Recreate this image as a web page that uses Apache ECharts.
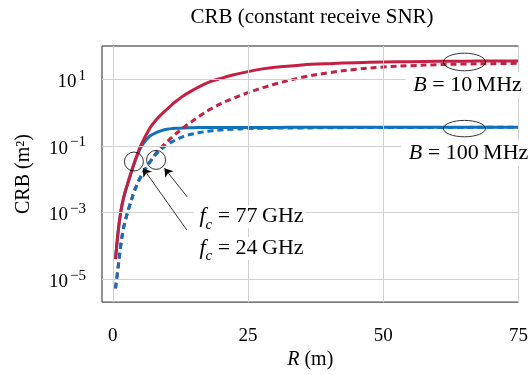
<!DOCTYPE html>
<html><head><meta charset="utf-8">
<script src="https://cdn.jsdelivr.net/npm/echarts@6/dist/echarts.min.js"></script>
<style>html,body{margin:0;padding:0;background:#fff}#c{width:531px;height:375px}</style>
</head><body><div id="c"></div>
<script>
// Range R (m)
const R = [0.5,1,1.5,2,3,4,4.5,5,5.5,6,6.5,7,8,9,10,11,12,13,14,16,18,20,22,25,28,30,35,40,45,50,55,60,65,70,75];
// CRB (m^2), fc = 24 GHz, B = 10 MHz (solid red)
const crb24_B10 = [4.0e-5,2.82e-4,1.12e-3,2.82e-3,1.0e-2,3.16e-2,5.37e-2,8.91e-2,0.132,0.191,0.269,0.372,0.603,0.891,1.26,1.78,2.40,3.16,3.98,6.03,8.51,10.7,13.2,17.0,20.9,22.9,26.9,29.5,31.6,33.1,33.9,34.7,35.1,35.5,35.5];
// fc = 24 GHz, B = 100 MHz (solid blue)
const crb24_B100 = [4.0e-5,2.82e-4,1.12e-3,2.82e-3,1.0e-2,3.16e-2,5.13e-2,7.94e-2,0.110,0.141,0.174,0.204,0.251,0.288,0.316,0.331,0.339,0.347,0.351,0.355,0.355,0.359,0.36,0.36,0.36,0.36,0.361,0.362,0.362,0.363,0.363,0.363,0.363,0.363,0.363];
// fc = 77 GHz, B = 10 MHz (dashed red)
const crb77_B10 = [5.25e-6,2.4e-5,1.12e-4,3.55e-4,1.41e-3,4.47e-3,7.08e-3,1.05e-2,1.48e-2,2.0e-2,2.69e-2,3.55e-2,6.03e-2,9.12e-2,0.132,0.186,0.257,0.347,0.457,0.776,1.26,1.86,2.57,3.98,5.75,7.24,11.5,15.8,20.0,23.4,25.7,27.5,28.8,29.5,30.2];
// fc = 77 GHz, B = 100 MHz (dashed blue)
const crb77_B100 = [5.25e-6,2.4e-5,1.12e-4,3.55e-4,1.41e-3,4.47e-3,7.08e-3,1.05e-2,1.48e-2,2.0e-2,2.69e-2,3.55e-2,5.62e-2,7.94e-2,0.107,0.135,0.162,0.191,0.214,0.251,0.282,0.302,0.316,0.331,0.339,0.343,0.347,0.351,0.355,0.355,0.358,0.36,0.36,0.362,0.363];

const xTicks = [0, 25, 50, 75];
const yTickExp = [-5, -3, -1, 1];

const RED = '#C51F41', BLUE = '#0F72BD';
const F = '"Liberation Serif","Times New Roman",serif';
const pts = arr => R.map((r, i) => [r, Math.log10(arr[i])]);

const chart = echarts.init(document.getElementById('c'));
const lineS = (data, color, dashed) => ({
  type: 'line', data: pts(data), symbol: 'none', smooth: 0.35,
  animation: false, silent: true,
  lineStyle: { color, width: 3, type: dashed ? [6, 4] : 'solid', cap: 'butt', join: 'round' }
});

chart.setOption({
  animation: false,
  title: { text: 'CRB (constant receive SNR)', left: 307, textAlign: 'center', top: 2,
    textStyle: { fontFamily: F, fontSize: 21, fontWeight: 'normal', color: '#000' } },
  grid: { left: 102, right: 9, top: 46, bottom: 62.5, show: true, borderColor: '#222', borderWidth: 1, backgroundColor: 'transparent' },
  xAxis: {
    type: 'value', min: -2, max: 75,
    axisLine: { show: false }, splitLine: { show: false },
    axisTick: { show: true, customValues: xTicks, length: 5, lineStyle: { color: '#222' } },
    axisLabel: { customValues: xTicks, fontFamily: F, fontSize: 19, color: '#000', margin: 24 },
    name: '{i|R} (m)', nameLocation: 'middle', nameGap: 47,
    nameTextStyle: { fontFamily: F, fontSize: 20, color: '#000',
      rich: { i: { fontFamily: F, fontSize: 20, fontStyle: 'italic', color: '#000' } } }
  },
  yAxis: {
    type: 'value', min: -5.69, max: 2,
    axisLine: { show: false }, splitLine: { show: false },
    axisTick: { show: true, customValues: yTickExp, length: 6, lineStyle: { color: '#222' } },
    axisLabel: {
      customValues: yTickExp, margin: 16,
      formatter: v => '{b|10}{s|' + (v < 0 ? '\u2212' : '') + Math.abs(v) + '}',
      rich: {
        b: { fontFamily: F, fontSize: 19, color: '#000', lineHeight: 20, padding: [6, 0, 0, 0] },
        s: { fontFamily: F, fontSize: 15, color: '#000', lineHeight: 15, padding: [0, 0, 7, 2] }
      }
    },
    name: 'CRB (m\u00B2)', nameLocation: 'middle', nameGap: 68, nameRotate: 90,
    nameTextStyle: { fontFamily: F, fontSize: 20, color: '#000' }
  },
  series: [
    { type: 'line', data: [], silent: true,
      markLine: { silent: true, symbol: 'none', animation: false, label: { show: false },
        lineStyle: { color: '#d0d0d0', width: 1, type: 'solid' },
        data: [...xTicks.map(v => ({ xAxis: v })), ...yTickExp.map(v => ({ yAxis: v }))] } },
    lineS(crb24_B100, BLUE, false),
    lineS(crb24_B10, RED, false),
    lineS(crb77_B10, RED, true),
    lineS(crb77_B100, BLUE, true),
    { type: 'line', data: [], silent: true,
      markLine: { silent: true, animation: false, symbol: ['none', 'arrow'], symbolSize: 8,
        label: { show: false }, lineStyle: { color: '#000', width: 0.8, type: 'solid' },
        data: [
          [{ coord: [13.75, -2.53] }, { coord: [9.54, -1.67] }],
          [{ coord: [13.66, -3.52] }, { coord: [5.59, -1.67] }]
        ] } }
  ]
});

// annotations anchored in data coordinates
const P = (x, y) => chart.convertToPixel({ gridIndex: 0 }, [x, y]);
const c24 = P(3.9, -1.47), c77 = P(8.0, -1.42), e10 = P(65, 1.52), e100 = P(65, -0.48);
const l77 = P(14.9, -3.13), l24 = P(14.9, -4.08), lB10 = P(75.8, 0.83), lB100 = P(77.0, -1.21);
const ring = { fill: 'none', stroke: '#000', lineWidth: 0.8 };
const fcRich = {
  i: { fontFamily: F, fontSize: 22, fontStyle: 'italic', color: '#000', lineHeight: 23, verticalAlign: 'top' },
  sub: { fontFamily: F, fontSize: 15, fontStyle: 'italic', color: '#000', lineHeight: 15, padding: [12, 0, 0, 0], verticalAlign: 'top' },
  t: { fontFamily: F, fontSize: 22, color: '#000', lineHeight: 23, verticalAlign: 'top' }
};
const bRich = col => ({
  i: { fontFamily: F, fontSize: 22, fontStyle: 'italic', color: col },
  t: { fontFamily: F, fontSize: 22, color: col }
});
chart.setOption({
  graphic: [
    { type: 'circle', z: 50, shape: { cx: c24[0], cy: c24[1], r: 9.5 }, style: ring, silent: true },
    { type: 'circle', z: 50, shape: { cx: c77[0], cy: c77[1], r: 9.5 }, style: ring, silent: true },
    { type: 'ellipse', z: 50, shape: { cx: e10[0], cy: e10[1], rx: 21, ry: 8.8 }, style: ring, silent: true },
    { type: 'ellipse', z: 50, shape: { cx: e100[0], cy: e100[1], rx: 21, ry: 8.2 }, style: ring, silent: true },
    { type: 'text', z: 60, x: l77[0], y: l77[1], silent: true,
      style: { text: '{i|f}{sub|c}{t| = 77\u2009GHz}', rich: fcRich, align: 'left', verticalAlign: 'middle',
        backgroundColor: '#fff', padding: [0, 2, 0, 6] } },
    { type: 'text', z: 60, x: l24[0], y: l24[1], silent: true,
      style: { text: '{i|f}{sub|c}{t| = 24\u2009GHz}', rich: fcRich, align: 'left', verticalAlign: 'middle',
        backgroundColor: '#fff', padding: [0, 2, 0, 6] } },
    { type: 'text', z: 60, x: lB10[0], y: lB10[1], silent: true,
      style: { text: '{i|B}{t| = 10\u2009MHz}', rich: bRich(RED), align: 'right', verticalAlign: 'middle',
        backgroundColor: '#fff', padding: [2, 1, 2, 8] } },
    { type: 'text', z: 60, x: lB100[0], y: lB100[1], silent: true,
      style: { text: '{i|B}{t| = 100\u2009MHz}', rich: bRich(BLUE), align: 'right', verticalAlign: 'middle',
        backgroundColor: '#fff', padding: [2, 1, 2, 8] } }
  ]
});
</script>
</body></html>
